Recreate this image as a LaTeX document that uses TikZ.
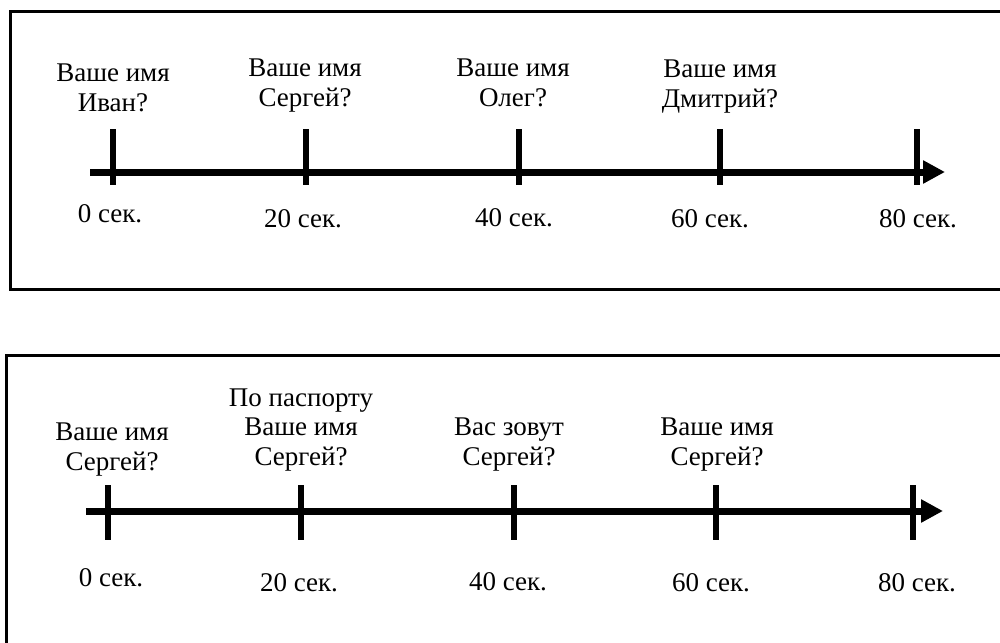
\documentclass[tikz,border=0pt]{standalone}
\usepackage{fontspec}
\setmainfont{Liberation Serif}
\usetikzlibrary{arrows.meta}
\begin{document}
\begin{tikzpicture}[x=1pt,y=-1pt,
  frame/.style={draw=black,line width=3pt},
  axis/.style={line width=7pt,-{Triangle[length=22pt,width=22pt]}},
  tick/.style={line width=6pt},
  lbl/.style={font=\fontsize{27}{29.5}\selectfont,align=center,inner sep=0pt,anchor=base},
  tlbl/.style={font=\fontsize{27}{29.5}\selectfont,inner sep=0pt,anchor=base}]
\useasboundingbox (0,0) rectangle (1000,642);
\clip (0,0) rectangle (1000,642);
% frames
\draw[frame] (10,12) rectangle (1020,289);
\draw[frame] (6,355) rectangle (1020,660);
% top timeline
\coordinate (ta) at (90,172);
\coordinate (tb) at (945,172);
\draw[axis] (ta) -- (tb);
\foreach \n/\x in {0/113,1/306,2/519,3/720,4/917}{
  \coordinate (tt\n) at (\x,129);
  \coordinate (tu\n) at (\x,185);
  \draw[tick] (tt\n) -- (tu\n);
}
\node[lbl] (q0) at (113,111) {Ваше имя\\Иван?};
\node[lbl] (q1) at (305,106) {Ваше имя\\Сергей?};
\node[lbl] (q2) at (513,106) {Ваше имя\\Олег?};
\node[lbl] (q3) at (720,107) {Ваше имя\\Дмитрий?};
\node[tlbl] (s0) at (110,222) {0 сек.};
\node[tlbl] (s1) at (303,227) {20 сек.};
\node[tlbl] (s2) at (514,226) {40 сек.};
\node[tlbl] (s3) at (710,227) {60 сек.};
\node[tlbl] (s4) at (918,227) {80 сек.};
% bottom timeline
\coordinate (ba) at (86,511);
\coordinate (bb) at (943,511);
\draw[axis] (ba) -- (bb);
\foreach \n/\x in {0/108,1/301,2/514,3/716,4/913}{
  \coordinate (bt\n) at (\x,485);
  \coordinate (bu\n) at (\x,540);
  \draw[tick] (bt\n) -- (bu\n);
}
\node[lbl] (p0) at (112,470) {Ваше имя\\Сергей?};
\node[lbl] (p1) at (301,465) {По паспорту\\Ваше имя\\Сергей?};
\node[lbl] (p2) at (509,465) {Вас зовут\\Сергей?};
\node[lbl] (p3) at (717,465) {Ваше имя\\Сергей?};
\node[tlbl] (r0) at (111,586) {0 сек.};
\node[tlbl] (r1) at (299,591) {20 сек.};
\node[tlbl] (r2) at (508,590) {40 сек.};
\node[tlbl] (r3) at (711,591) {60 сек.};
\node[tlbl] (r4) at (917,591) {80 сек.};
\end{tikzpicture}
\end{document}
